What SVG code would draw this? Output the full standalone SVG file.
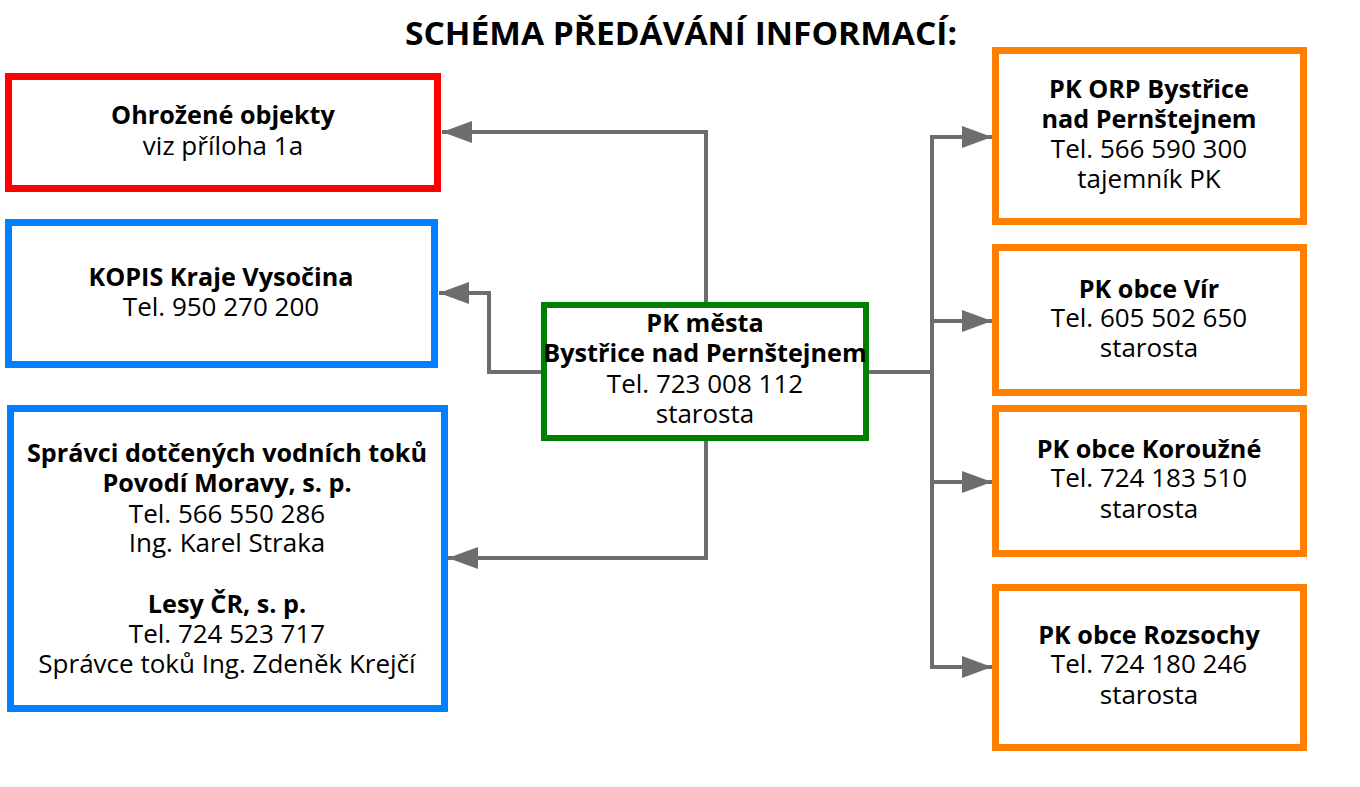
<svg xmlns="http://www.w3.org/2000/svg" width="1360" height="787" viewBox="0 0 1360 787">
<style>
  .box { fill: #ffffff; stroke-width: 7; }
  .red { stroke: #ff0000; }
  .blue { stroke: #0080ff; }
  .green { stroke: #008000; stroke-width: 6; }
  .orange { stroke: #ff8000; }
  text { font-family: "Open Sans", "Liberation Sans", sans-serif; font-size: 26px; fill: #000; text-anchor: middle; }
  .b { font-weight: bold; font-size: 25.2px; }
  .title { font-size: 32px; font-weight: bold; }
  .conn { fill: none; stroke: #6d6d6d; stroke-width: 4; marker-end: url(#arr); }
  .line { fill: none; stroke: #6d6d6d; stroke-width: 4; }
</style>
<defs>
  <marker id="arr" markerUnits="userSpaceOnUse" markerWidth="30" markerHeight="22" refX="30" refY="11" orient="auto" viewBox="0 0 30 22">
    <path d="M0,0 L30,11 L0,22 z" fill="#6d6d6d"/>
  </marker>
</defs>
<rect width="1360" height="787" fill="#ffffff"/>
<text class="title" x="681" y="45" textLength="552" lengthAdjust="spacingAndGlyphs">SCHÉMA PŘEDÁVÁNÍ INFORMACÍ:</text>

<g id="connectors">
  <path class="conn" d="M706,302 L706,132 L442,132"/>
  <path class="conn" d="M541,372 L489,372 L489,293 L439,293"/>
  <path class="conn" d="M706,441 L706,558 L448,558"/>
  <path class="line" d="M869,372 L932,372"/>
  <path class="line" d="M932,137 L932,667"/>
  <path class="conn" d="M930,137 L992,137"/>
  <path class="conn" d="M932,321 L992,321"/>
  <path class="conn" d="M932,482 L992,482"/>
  <path class="conn" d="M930,667 L992,667"/>
</g>

<g id="ohrozene">
  <rect class="box red" x="8.5" y="76.5" width="429" height="112"/>
  <text class="b" x="223" y="124">Ohrožené objekty</text>
  <text x="223" y="155">viz příloha 1a</text>
</g>

<g id="kopis">
  <rect class="box blue" x="8.5" y="222.5" width="426" height="142"/>
  <text class="b" x="221" y="286">KOPIS Kraje Vysočina</text>
  <text x="221" y="316">Tel. 950 270 200</text>
</g>

<g id="spravci">
  <rect class="box blue" x="10.5" y="408.5" width="434" height="300"/>
  <text class="b" x="227" y="462">Správci dotčených vodních toků</text>
  <text class="b" x="227" y="492">Povodí Moravy, s. p.</text>
  <text x="227" y="523">Tel. 566 550 286</text>
  <text x="227" y="552">Ing. Karel Straka</text>
  <text class="b" x="227" y="613">Lesy ČR, s. p.</text>
  <text x="227" y="643">Tel. 724 523 717</text>
  <text x="227" y="673">Správce toků Ing. Zdeněk Krejčí</text>
</g>

<g id="pk-mesta">
  <rect class="box green" x="544" y="305" width="322" height="133"/>
  <text class="b" x="705" y="332">PK města</text>
  <text class="b" x="705" y="362">Bystřice nad Pernštejnem</text>
  <text x="705" y="393">Tel. 723 008 112</text>
  <text x="705" y="423">starosta</text>
</g>

<g id="pk-orp">
  <rect class="box orange" x="995.5" y="50.5" width="308" height="171"/>
  <text class="b" x="1149" y="98">PK ORP Bystřice</text>
  <text class="b" x="1149" y="128">nad Pernštejnem</text>
  <text x="1149" y="158">Tel. 566 590 300</text>
  <text x="1149" y="188">tajemník PK</text>
</g>

<g id="pk-vir">
  <rect class="box orange" x="995.5" y="247.5" width="308" height="145"/>
  <text class="b" x="1149" y="298">PK obce Vír</text>
  <text x="1149" y="327">Tel. 605 502 650</text>
  <text x="1149" y="357">starosta</text>
</g>

<g id="pk-korouzne">
  <rect class="box orange" x="995.5" y="408.5" width="308" height="145"/>
  <text class="b" x="1149" y="458">PK obce Koroužné</text>
  <text x="1149" y="487">Tel. 724 183 510</text>
  <text x="1149" y="518">starosta</text>
</g>

<g id="pk-rozsochy">
  <rect class="box orange" x="995.5" y="587.5" width="308" height="160"/>
  <text class="b" x="1149" y="644">PK obce Rozsochy</text>
  <text x="1149" y="673">Tel. 724 180 246</text>
  <text x="1149" y="704">starosta</text>
</g>
</svg>
